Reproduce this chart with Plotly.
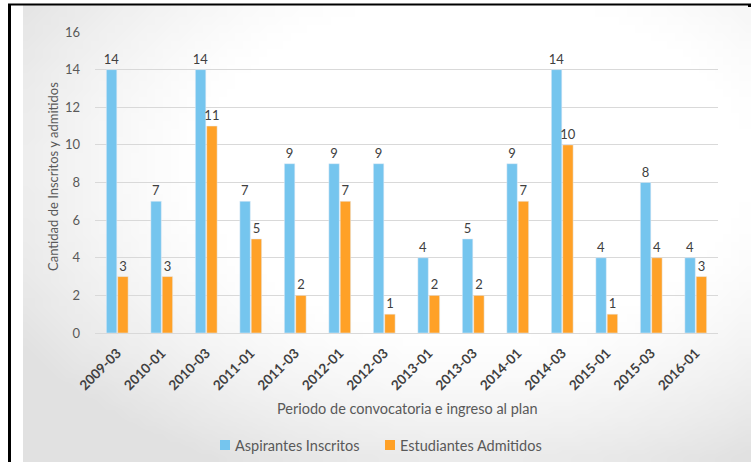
import plotly.graph_objects as go
import zlib, struct, base64, math

categories = ["2009-03", "2010-01", "2010-03", "2011-01", "2011-03", "2012-01", "2012-03",
              "2013-01", "2013-03", "2014-01", "2014-03", "2015-01", "2015-03", "2016-01"]
inscritos = [14, 7, 14, 7, 9, 9, 9, 4, 5, 9, 14, 4, 8, 4]
admitidos = [3, 3, 11, 5, 2, 7, 1, 2, 2, 7, 10, 1, 4, 3]
y_ticks = [0, 2, 4, 6, 8, 10, 12, 14, 16]
series_names = ["Aspirantes Inscritos", "Estudiantes Admitidos"]
colors = ["#75C5EE", "#FFA127"]

W, H = 751, 462
L, R, T, B = 95, 718, 32, 333

def px(x):
    return (x - L) / (R - L)

def py(y):
    return (B - y) / (B - T)

# background gradient image (pure python png)
def make_png(w, h):
    rows = []
    for j in range(h):
        row = bytearray([0])
        for i in range(w):
            u = i / (w - 1)
            v = j / (h - 1)
            d = math.sqrt(((u - 0.62) / 0.75) ** 2 + ((v - 0.35) / 0.75) ** 2)
            s = max(0.0, d - 0.5) / 0.5
            g = int(round(255 - 30 * min(1.0, s) ** 1.3))
            row += bytes([g, g, g])
        rows.append(bytes(row))
    raw = b"".join(rows)
    def chunk(t, d):
        c = struct.pack(">I", len(d)) + t + d
        return c + struct.pack(">I", zlib.crc32(t + d) & 0xffffffff)
    png = b"\x89PNG\r\n\x1a\n" + chunk(b"IHDR", struct.pack(">IIBBBBB", w, h, 8, 2, 0, 0, 0))
    png += chunk(b"IDAT", zlib.compress(raw, 9)) + chunk(b"IEND", b"")
    return "data:image/png;base64," + base64.b64encode(png).decode()

bg = make_png(91, 57)

font = "Lato"
fig = go.Figure()
for name, vals, col in zip(series_names, [inscritos, admitidos], colors):
    fig.add_trace(go.Bar(x=categories, y=vals, name=name,
                         marker=dict(color=col), text=vals, textposition="outside",
                         textfont=dict(family=font, size=13, color="#404040"), cliponaxis=False))

shapes = [
    dict(type="rect", xref="paper", yref="paper", x0=px(8), x1=px(751), y0=py(3.5), y1=py(5.5),
         fillcolor="black", line_width=0, layer="above"),
    dict(type="rect", xref="paper", yref="paper", x0=px(8), x1=px(11), y0=py(4), y1=py(462),
         fillcolor="black", line_width=0, layer="above"),
    dict(type="rect", xref="paper", yref="paper", x0=px(748), x1=px(751), y0=py(4), y1=py(7),
         fillcolor="black", line_width=0, layer="above"),
]

annotations = [
    dict(text="Periodo de convocatoria e ingreso al plan", xref="paper", yref="paper",
         x=px(407), y=py(409), xanchor="center", yanchor="middle", showarrow=False,
         font=dict(family=font, size=14.5, color="#595959")),
    dict(text="Cantidad de Inscritos y admitidos", xref="paper", yref="paper",
         x=px(53), y=py(177), xanchor="center", yanchor="middle", showarrow=False, textangle=-90,
         font=dict(family=font, size=13, color="#595959")),
]

# manual legend (square swatches)
legend_pos = [(220, 233), (385, 398)]
for name, col, (sx, tx) in zip(series_names, colors, legend_pos):
    shapes.append(dict(type="rect", xref="paper", yref="paper", x0=px(sx), x1=px(sx + 10),
                       y0=py(450), y1=py(440), fillcolor=col, line_width=0))
    annotations.append(dict(text=name, xref="paper", yref="paper", x=px(tx), y=py(445.5),
                            xanchor="left", yanchor="middle", showarrow=False,
                            font=dict(family=font, size=14.5, color="#595959")))

fig.update_layout(
    width=W, height=H,
    margin=dict(l=L, r=W - R, t=T, b=H - B, autoexpand=False),
    paper_bgcolor="white", plot_bgcolor="rgba(0,0,0,0)",
    barmode="group", bargap=0.49, bargroupgap=0.08,
    uniformtext=dict(minsize=13, mode="show"),
    font=dict(family=font, color="#595959"),
    showlegend=False,
    xaxis=dict(type="category", tickangle=-45,
               tickfont=dict(family=font, size=13.5, color="#404040", weight="bold"),
               showgrid=False, showline=True, linecolor="#D9D9D9", linewidth=1,
               ticks="", ticklabelstandoff=6, fixedrange=True, automargin=False),
    yaxis=dict(range=[0, 16], tickvals=y_ticks, showgrid=True, gridcolor="#D9D9D9", gridwidth=1,
               zeroline=False, showline=False, ticks="", automargin=False,
               tickfont=dict(family=font, size=13, color="#595959"), ticklabelstandoff=14),
    shapes=shapes,
    images=[dict(source=bg, xref="paper", yref="paper", x=px(23), y=py(5), sizex=px(751) - px(23),
                 sizey=py(5) - py(462), xanchor="left", yanchor="top", sizing="stretch", layer="below")],
    annotations=annotations,
)

fig.write_html("out.html")
